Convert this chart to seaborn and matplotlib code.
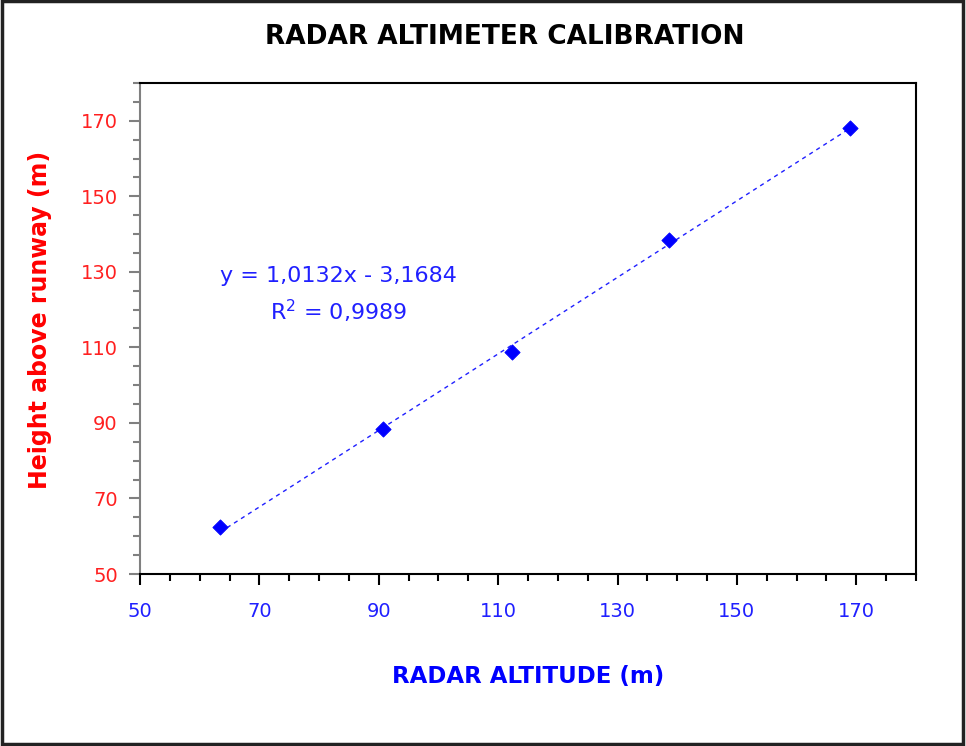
import numpy as np
import pandas as pd
import matplotlib
matplotlib.use("Agg")
import matplotlib.pyplot as plt
import seaborn as sns
from matplotlib.ticker import MultipleLocator
from matplotlib.patches import Rectangle

radar_alt = [63.4, 90.7, 112.4, 138.7, 169.0]
height = [62.4, 88.5, 108.8, 138.4, 168.2]
slope = 1.0132
intercept = -3.1684
r2 = 0.9989

df = pd.DataFrame({"radar": radar_alt, "height": height})

sns.set_style("white")
plt.rcParams['font.family'] = ['DejaVu Sans']

fig = plt.figure(figsize=(9.66, 7.46), dpi=100)
ax = fig.add_axes([140 / 966, 1 - 574 / 746, 776 / 966, 491 / 746])

# trendline
xs = np.array([df["radar"].min(), df["radar"].max()])
fit = pd.DataFrame({"x": xs, "y": slope * xs + intercept})
sns.lineplot(data=fit, x="x", y="y", ax=ax, color="#2020ff", lw=1,
             linestyle=(0, (3, 3)))
sns.scatterplot(data=df, x="radar", y="height", ax=ax, marker="D",
                color="#0000ff", s=60, edgecolor="#0000ff", zorder=3)

ax.set_xticks(range(50, 181, 20))
ax.set_yticks(range(50, 181, 20))
ax.xaxis.set_minor_locator(MultipleLocator(5))
ax.yaxis.set_minor_locator(MultipleLocator(5))
ax.set_xlim(50, 180)
ax.set_ylim(50, 180)

ax.tick_params(axis="x", which="major", direction="out", length=8, width=1.5,
               color="black", labelcolor="#2020ff", labelsize=14, pad=12,
               bottom=True)
ax.tick_params(axis="x", which="minor", direction="out", length=5, width=1.5,
               color="black", bottom=True)
ax.tick_params(axis="y", which="major", direction="out", length=8, width=1.5,
               color="#808080", labelcolor="#ff2020", labelsize=14, pad=8,
               left=True)
ax.tick_params(axis="y", which="minor", direction="out", length=5, width=1.5,
               color="#808080", left=True)

for s in ["top", "right", "bottom"]:
    ax.spines[s].set_color("black")
    ax.spines[s].set_linewidth(1.5)
ax.spines["left"].set_color("#808080")
ax.spines["left"].set_linewidth(1.5)

ax.set_xlabel("RADAR ALTITUDE (m)", color="#0000ff", fontsize=16.5,
              fontweight="bold", labelpad=32)
ax.set_ylabel("Height above runway (m)", color="#ff0000", fontsize=17,
              fontweight="bold")
ax.yaxis.set_label_coords(-88 / 776, 0.517)

fig.text(505 / 966, 1 - 37 / 746, "RADAR ALTIMETER CALIBRATION", ha="center",
         va="center", fontsize=19, fontweight="bold", color="black")

ax.text(0.256, 0.567,
        f"y = {slope:.4f}x - {abs(intercept):.4f}".replace(".", ",") + "\n"
        + f"R$^2$ = {r2:.4f}".replace(".", ","),
        transform=ax.transAxes, ha="center", va="center", color="#2020ff",
        fontsize=16, linespacing=1.5)

fig.patches.append(Rectangle((0.002, 0.003), 0.995, 0.995, transform=fig.transFigure,
                             fill=False, edgecolor="#222222", lw=2.5))

fig.savefig("out.png", dpi=100)
